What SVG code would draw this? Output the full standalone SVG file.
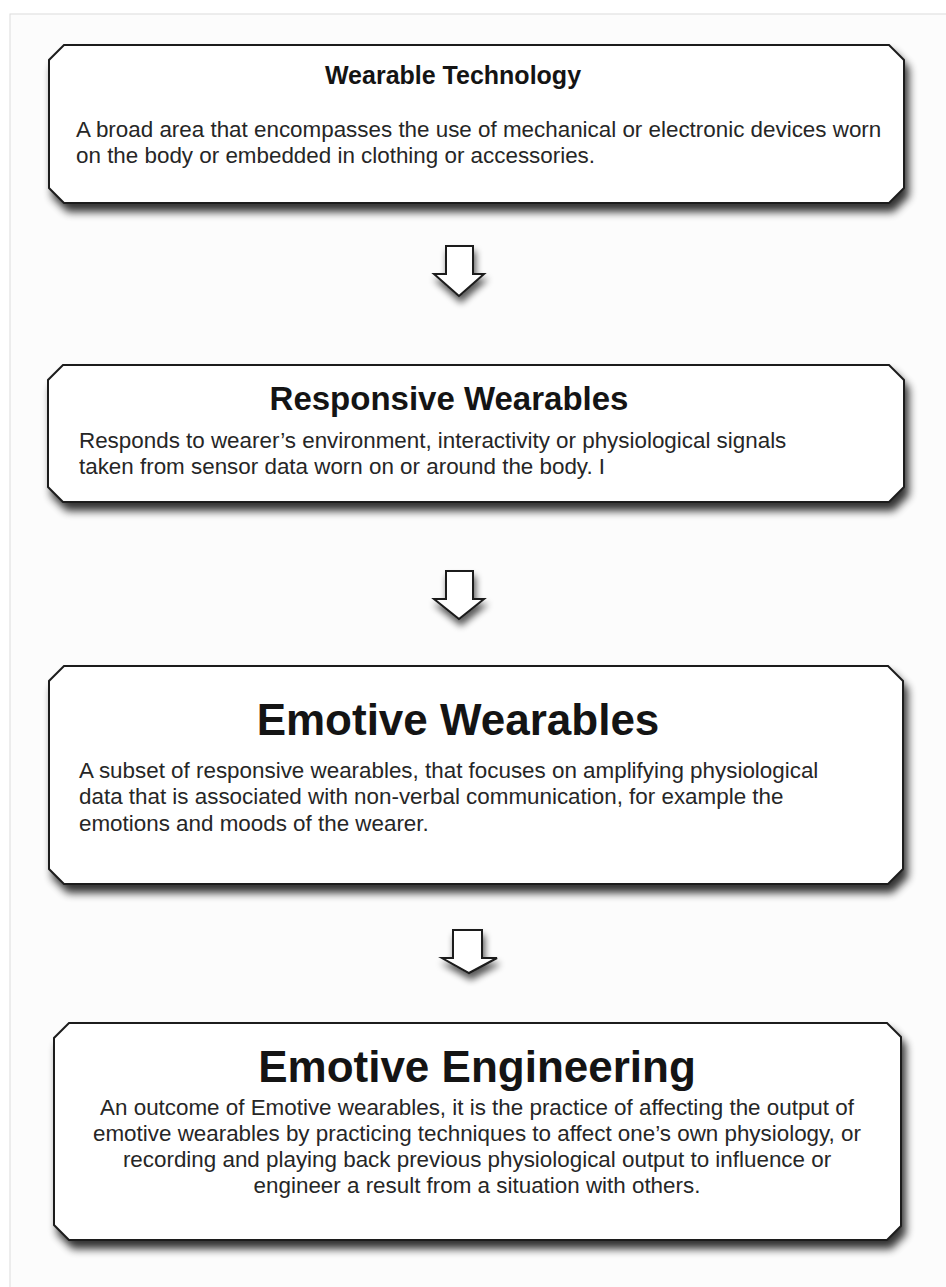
<svg xmlns="http://www.w3.org/2000/svg" width="946" height="1287" viewBox="0 0 946 1287">
  <style>
    .box { fill: #ffffff; stroke: #1e1e1e; stroke-width: 2; filter: url(#drop); }
    .arrow { fill: #ffffff; stroke: #1a1a1a; stroke-width: 2; stroke-linejoin: miter; filter: url(#dropSmall); }
    .title { font-family: "Liberation Sans", Arial, Helvetica, sans-serif; font-weight: bold; fill: #141414; text-anchor: middle; }
    .body { font-family: "Liberation Sans", Arial, Helvetica, sans-serif; font-size: 22.4px; fill: #262626; }
    .center { text-anchor: middle; }
  </style>
  <defs>
    <filter id="drop" x="-5%" y="-10%" width="115%" height="135%">
      <feGaussianBlur in="SourceAlpha" stdDeviation="4"/>
      <feOffset dx="4" dy="8" result="blur"/>
      <feComponentTransfer><feFuncA type="linear" slope="0.8"/></feComponentTransfer>
      <feMerge><feMergeNode/><feMergeNode in="SourceGraphic"/></feMerge>
    </filter>
    <filter id="dropSmall" x="-40%" y="-30%" width="180%" height="180%">
      <feGaussianBlur in="SourceAlpha" stdDeviation="3.5"/>
      <feOffset dx="2" dy="6" result="blur"/>
      <feComponentTransfer><feFuncA type="linear" slope="0.65"/></feComponentTransfer>
      <feMerge><feMergeNode/><feMergeNode in="SourceGraphic"/></feMerge>
    </filter>
  </defs>

  <!-- page -->
  <rect x="0" y="0" width="946" height="1287" fill="#ffffff"/>
  <rect x="10" y="14" width="945" height="1290" fill="#fcfcfc" stroke="#dcdcdc" stroke-width="1"/>

  <!-- connectors: hollow down arrows -->
  <g id="connectors">
    <path class="arrow" d="M446,246 H473 V274 H484 L459,296 L434,274 H446 Z"/>
    <path class="arrow" d="M446,571 H473 V599 H484 L459,619 L434,599 H446 Z"/>
    <path class="arrow" d="M453,930 H482 V958 H497 L469,973 L442,958 H453 Z"/>
  </g>

  <g id="wearable-technology">
    <path class="box" d="M64,45 H889 L904,60 V188 L889,203 H64 L49,188 V60 Z"/>
    <text class="title" x="453" y="84" font-size="25">Wearable Technology</text>
    <text class="body" x="76" y="137">A broad area that encompasses the use of mechanical or electronic devices worn</text>
    <text class="body" x="76" y="163">on the body or embedded in clothing or accessories.</text>
  </g>

  <g id="responsive-wearables">
    <path class="box" d="M63,365 H889 L904,380 V487 L889,502 H63 L48,487 V380 Z"/>
    <text class="title" x="449" y="410" font-size="33">Responsive Wearables</text>
    <text class="body" x="79" y="448">Responds to wearer’s environment, interactivity or physiological signals</text>
    <text class="body" x="79" y="474">taken from sensor data worn on or around the body. I</text>
  </g>

  <g id="emotive-wearables">
    <path class="box" d="M64,666 H888 L903,681 V869 L888,884 H64 L49,869 V681 Z"/>
    <text class="title" x="458" y="735" font-size="44">Emotive Wearables</text>
    <text class="body" x="79" y="778">A subset of responsive wearables, that focuses on amplifying physiological</text>
    <text class="body" x="79" y="804">data that is associated with non-verbal communication, for example the</text>
    <text class="body" x="79" y="831">emotions and moods of the wearer.</text>
  </g>

  <g id="emotive-engineering">
    <path class="box" d="M69,1023 H887 L901,1037 V1226 L887,1240 H69 L54,1225 V1038 Z"/>
    <text class="title" x="477" y="1082" font-size="44">Emotive Engineering</text>
    <text class="body center" x="477" y="1115">An outcome of Emotive wearables, it is the practice of affecting the output of</text>
    <text class="body center" x="477" y="1141">emotive wearables by practicing techniques to affect one’s own physiology, or</text>
    <text class="body center" x="477" y="1167">recording and playing back previous physiological output to influence or</text>
    <text class="body center" x="477" y="1193">engineer a result from a situation with others.</text>
  </g>
</svg>
